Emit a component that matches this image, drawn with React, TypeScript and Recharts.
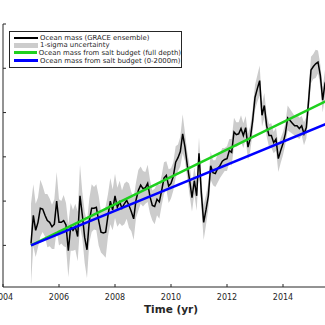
import React from 'react';
import { ComposedChart, Area, Line, XAxis, YAxis } from 'recharts';

// monthly GRACE ocean mass (mm), Jan 2005 onwards
const oceanMass = [
  0.2, 3.4, 1.7, 2.6, 4.2, 4.1, 3.4, 2.8, 2.6, 2.1, 2.4, 5.0,
  2.6, 2.6, 2.8, 2.3, -0.6, 2.1, 1.7, 2.1, 1.0, 5.6, 3.4, 0.9,
  -0.5, 2.8, 4.2, 4.2, 4.3, 2.8, 1.5, 1.4, 1.5, 3.4, 5.0, 4.0,
  5.6, 4.3, 4.9, 4.2, 4.7, 5.1, 4.5, 3.8, 3.0, 5.1, 6.2, 6.8,
  6.4, 6.5, 7.0, 5.5, 4.5, 4.4, 5.2, 4.9, 6.2, 7.6, 7.9, 6.7,
  7.0, 7.8, 9.4, 9.9, 10.6, 12.6, 11.1, 9.0, 7.3, 5.4, 7.3, 5.6,
  10.4, 5.9, 2.6, 4.0, 5.6, 9.0, 8.2, 8.1, 8.7, 9.0, 9.5, 9.7,
  9.8, 10.7, 10.5, 12.8, 12.5, 12.6, 13.2, 12.4, 13.3, 11.1, 12.1, 14.1,
  16.7, 17.7, 18.6, 14.7, 15.8, 13.5, 12.4, 12.4, 11.6, 12.0, 9.8, 10.7,
  11.5, 12.6, 14.4, 14.1, 13.8, 13.5, 13.5, 13.2, 13.5, 12.6, 13.3, 16.4,
  19.8, 20.2, 20.5, 20.7, 19.2, 16.4, 18.3, 19.0,
];

// 1-sigma uncertainty (mm)
const sigma = [
  4.5, 3.5, 3.0, 2.8, 3.2, 2.6, 2.4, 3.0, 2.7, 2.5, 2.8, 3.3,
  2.6, 2.4, 2.9, 2.5, 3.0, 2.7, 2.3, 2.6, 2.8, 3.5, 2.6, 2.9,
  3.2, 2.5, 2.7, 2.4, 2.6, 2.8, 2.3, 2.5, 2.9, 2.4, 2.6, 2.3,
  2.5, 2.2, 2.4, 2.0, 2.3, 2.1, 2.5, 2.2, 2.4, 2.0, 2.3, 2.1,
  2.0, 1.8, 2.1, 1.9, 1.7, 2.0, 1.8, 1.9, 1.7, 1.8, 1.6, 1.9,
  1.7, 1.6, 1.8, 1.5, 1.7, 2.2, 1.6, 1.5, 1.7, 1.6, 1.5, 1.7,
  1.8, 1.6, 2.0, 1.7, 1.5, 1.6, 1.4, 1.5, 1.6, 1.4, 1.5, 1.3,
  1.4, 1.3, 1.5, 1.6, 1.4, 1.3, 1.5, 1.4, 1.3, 1.5, 1.4, 1.3,
  1.4, 1.5, 1.7, 1.3, 1.4, 1.2, 1.3, 1.4, 1.2, 1.3, 1.5, 1.4,
  1.3, 1.2, 1.4, 1.3, 1.2, 1.1, 1.3, 1.2, 1.1, 1.3, 1.2, 1.4,
  1.5, 1.4, 1.6, 1.3, 1.2, 1.4, 1.5, 1.4,
];

// salt budget trend lines (start / end)
const trendYears = [2005, 2015.6];
const fullDepth = [0, 16.4];
const upper2000 = [0, 13.8];

const xTicks = [2004, 2006, 2008, 2010, 2012, 2014];
const yTicks = [0, 5, 10, 15, 20, 25];

const FONT = '"DejaVu Sans", sans-serif';
const AXIS = '#262626';

const massData = oceanMass.map((v, i) => ({
  year: 2005 + i / 12,
  mass: v,
  band: [v - sigma[i], v + sigma[i]],
}));

const fullData = trendYears.map((t, i) => ({ year: t, v: fullDepth[i] }));
const upperData = trendYears.map((t, i) => ({ year: t, v: upper2000[i] }));

const XTick = (props: any) => {
  const { x, y, payload } = props;
  return (
    <g>
      <line x1={x} x2={x} y1={y} y2={y - 3} stroke={AXIS} />
      <text x={x} y={y + 13} textAnchor="middle" fontSize={8} fill={AXIS} fontFamily={FONT}>
        {payload.value}
      </text>
    </g>
  );
};

const YTick = (props: any) => {
  const { x, y } = props;
  return <line x1={x} x2={x + 3} y1={y} y2={y} stroke={AXIS} />;
};

const legendItems = [
  { label: 'Ocean mass (GRACE ensemble)', color: '#000000', h: 2 },
  { label: '1-sigma uncertainty', color: '#cccccc', h: 5 },
  { label: 'Ocean mass from salt budget (full depth)', color: '#1ed01e', h: 3 },
  { label: 'Ocean mass from salt budget (0-2000m)', color: '#0000ff', h: 3 },
];

export default function App() {
  return (
    <div style={{ position: 'absolute', left: 0, top: 0, width: 325, height: 325, overflow: 'hidden', background: '#fff' }}>
      <ComposedChart width={339} height={325} margin={{ top: 24, right: 0, bottom: 0, left: 0 }}>
        <XAxis
          dataKey="year"
          type="number"
          domain={[2004, 2016]}
          ticks={xTicks}
          interval={0}
          allowDataOverflow
          axisLine={{ stroke: AXIS }}
          tickLine={false}
          tickSize={0}
          tickMargin={0}
          tick={<XTick />}
          height={38}
          label={{
            value: 'Time (yr)',
            position: 'insideBottom',
            offset: 12,
            style: { fontFamily: FONT, fontSize: 10.5, fontWeight: 'bold', fill: AXIS },
          }}
        />
        <YAxis
          type="number"
          domain={[-4.7, 25]}
          ticks={yTicks}
          interval={0}
          allowDataOverflow
          width={3}
          axisLine={{ stroke: AXIS }}
          tickLine={false}
          tickSize={0}
          tickMargin={0}
          tick={<YTick />}
        />
        <Area
          data={massData}
          dataKey="band"
          type="linear"
          stroke="none"
          fill="#cccccc"
          fillOpacity={1}
          isAnimationActive={false}
        />
        <Line
          data={massData}
          dataKey="mass"
          type="linear"
          stroke="#000000"
          strokeWidth={1.5}
          dot={false}
          isAnimationActive={false}
        />
        <Line
          data={fullData}
          dataKey="v"
          type="linear"
          stroke="#1ed01e"
          strokeWidth={2.5}
          dot={false}
          isAnimationActive={false}
        />
        <Line
          data={upperData}
          dataKey="v"
          type="linear"
          stroke="#0000ff"
          strokeWidth={2.5}
          dot={false}
          isAnimationActive={false}
        />
      </ComposedChart>
      <div
        style={{
          position: 'absolute',
          left: 9,
          top: 31,
          width: 173,
          height: 37,
          border: `1px solid ${AXIS}`,
          background: '#fff',
          fontFamily: FONT,
          fontSize: 6.9,
          color: AXIS,
          boxSizing: 'border-box',
          paddingTop: 2,
        }}
      >
        {legendItems.map((it) => (
          <div key={it.label} style={{ display: 'flex', alignItems: 'center', height: 7.6, whiteSpace: 'nowrap' }}>
            <div style={{ marginLeft: 4, width: 24, height: it.h, background: it.color, marginRight: 2 }} />
            <span>{it.label}</span>
          </div>
        ))}
      </div>
    </div>
  );
}
